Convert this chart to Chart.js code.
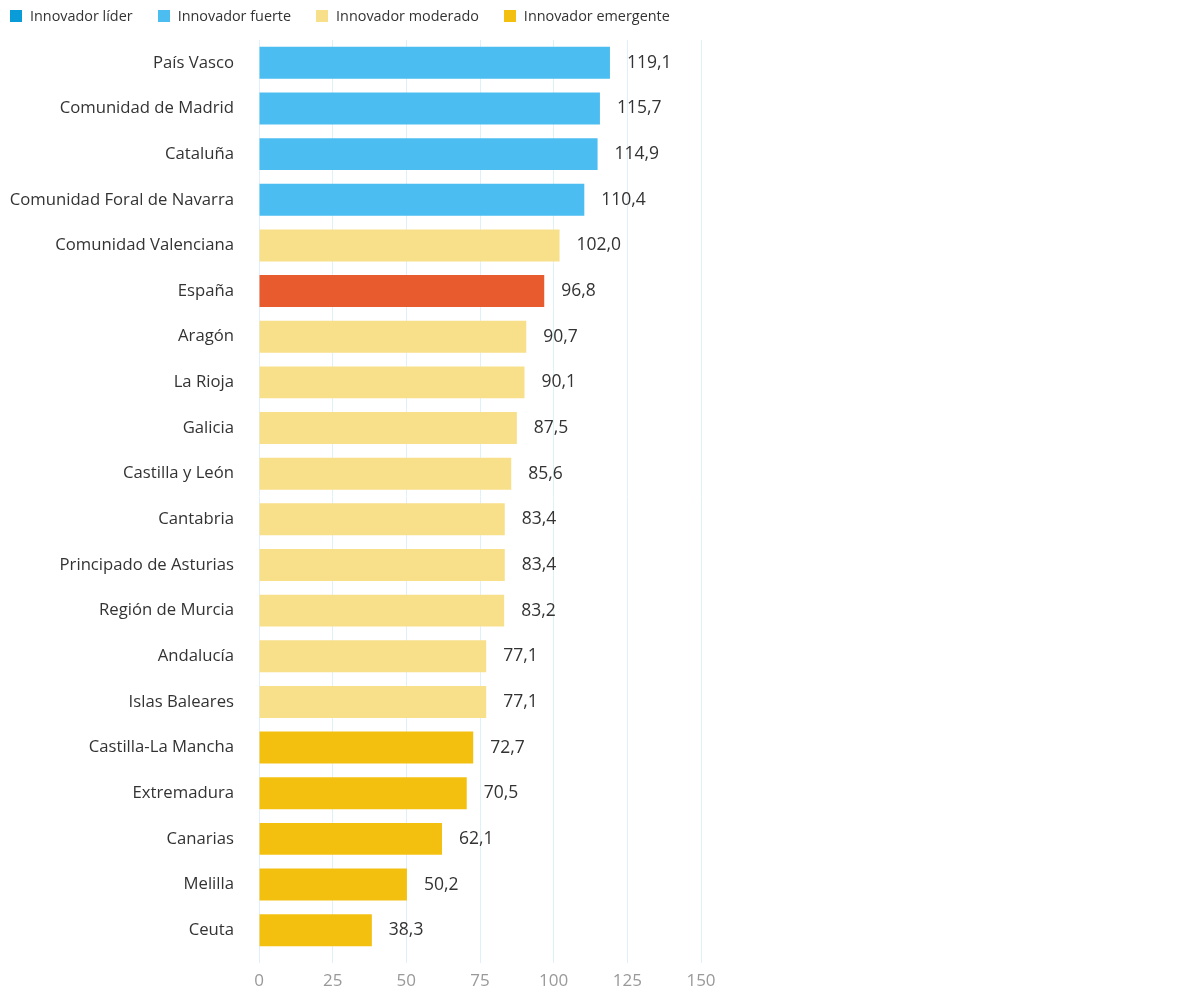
<!doctype html>
<html lang="es">
  <head>
    <meta charset="UTF-8" />
    <title>Índice de innovación regional</title>
    <script src="https://cdn.jsdelivr.net/npm/chart.js"></script>
    <style>
      body,
      html {
        margin: 0;
        padding: 0;
        background: #fff;
        font-family: "Open Sans", sans-serif;
      }
      .wrap {
        position: relative;
        width: 1180px;
        height: 996px;
      }
      #legend {
        position: absolute;
        top: 7px;
        left: 10px;
        display: flex;
        font-size: 14.4px;
        color: #333;
        line-height: 18px;
      }
      #legend .item {
        display: flex;
        align-items: center;
        margin-right: 25px;
      }
      #legend .box {
        width: 12px;
        height: 12px;
        margin-right: 8px;
      }
    </style>
  </head>
  <body>
    <div class="wrap">
      <div id="legend"></div>
      <canvas id="chart"></canvas>
    </div>
    <script>
      // Data
      const regions = [
        "País Vasco",
        "Comunidad de Madrid",
        "Cataluña",
        "Comunidad Foral de Navarra",
        "Comunidad Valenciana",
        "España",
        "Aragón",
        "La Rioja",
        "Galicia",
        "Castilla y León",
        "Cantabria",
        "Principado de Asturias",
        "Región de Murcia",
        "Andalucía",
        "Islas Baleares",
        "Castilla-La Mancha",
        "Extremadura",
        "Canarias",
        "Melilla",
        "Ceuta",
      ];
      const scores = [
        119.1, 115.7, 114.9, 110.4, 102.0, 96.8, 90.7, 90.1, 87.5, 85.6, 83.4,
        83.4, 83.2, 77.1, 77.1, 72.7, 70.5, 62.1, 50.2, 38.3,
      ];
      // tier of each region (index into tierNames), -1 = national average
      const regionTier = [1, 1, 1, 1, 2, -1, 2, 2, 2, 2, 2, 2, 2, 2, 2, 3, 3, 3, 3, 3];
      const tierNames = [
        "Innovador líder",
        "Innovador fuerte",
        "Innovador moderado",
        "Innovador emergente",
      ];
      const tierColors = ["#0a9cd9", "#4bbdf0", "#f8df8a", "#f4c010"];
      const spainColor = "#e85b2e";
      const xTicks = [0, 25, 50, 75, 100, 125, 150];

      // Legend
      const legendEl = document.getElementById("legend");
      tierNames.forEach((name, i) => {
        const item = document.createElement("div");
        item.className = "item";
        item.innerHTML = `<span class="box" style="background:${tierColors[i]}"></span>${name}`;
        legendEl.appendChild(item);
      });

      const barColors = regionTier.map((t) =>
        t < 0 ? spainColor : tierColors[t],
      );

      // value labels at the end of each bar
      const valueLabels = {
        id: "valueLabels",
        afterDatasetsDraw(chart) {
          const ctx = chart.ctx;
          const meta = chart.getDatasetMeta(0);
          ctx.save();
          ctx.font = '17.5px "Open Sans", sans-serif';
          ctx.fillStyle = "#333";
          ctx.textAlign = "left";
          ctx.textBaseline = "middle";
          meta.data.forEach((bar, i) => {
            const txt = scores[i].toFixed(1).replace(".", ",");
            ctx.fillText(txt, bar.x + 17, bar.y);
          });
          ctx.restore();
        },
      };

      new Chart(document.getElementById("chart"), {
        type: "bar",
        data: {
          labels: regions,
          datasets: [
            {
              data: scores,
              backgroundColor: barColors,
              borderWidth: 0,
              barPercentage: 0.7,
              categoryPercentage: 1,
            },
          ],
        },
        options: {
          indexAxis: "y",
          responsive: true,
          maintainAspectRatio: false,
          animation: false,
          layout: {
            padding: { top: 40, right: 479, bottom: 7, left: 0 },
          },
          plugins: {
            legend: { display: false },
            tooltip: { enabled: false },
          },
          scales: {
            x: {
              min: 0,
              max: 150,
              afterBuildTicks: (scale) => {
                scale.ticks = xTicks.map((v) => ({ value: v }));
              },
              afterFit: (scale) => {
                scale.height = 36;
              },
              grid: {
                color: "#e0f0f9",
                drawTicks: true,
                tickLength: 10,
              },
              border: { display: false },
              ticks: {
                color: "#999",
                padding: 8,
                font: { size: 17, family: '"Open Sans", sans-serif' },
              },
            },
            y: {
              grid: { display: false },
              border: { display: false },
              afterFit: (scale) => {
                scale.width = 259;
              },
              ticks: {
                color: "#333",
                padding: 17,
                font: { size: 16.7, family: '"Open Sans", sans-serif' },
              },
            },
          },
        },
        plugins: [valueLabels],
      });
    </script>
  </body>
</html>
